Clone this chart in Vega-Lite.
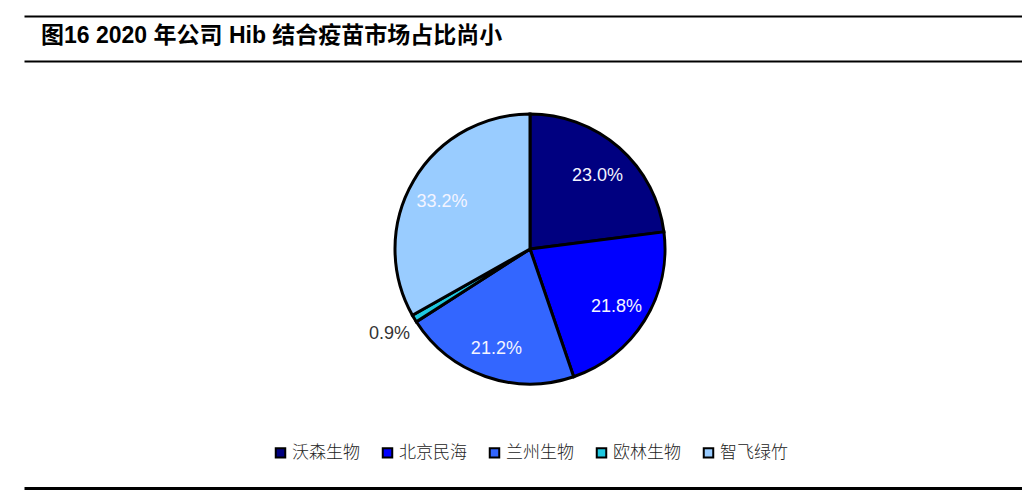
{
  "$schema": "https://vega.github.io/schema/vega-lite/v6.json",
  "width": 998,
  "height": 472,
  "autosize": {"type": "none"},
  "padding": {"left": 24, "top": 16, "right": 0, "bottom": 2},
  "background": "white",
  "config": {"view": {"stroke": null}},
  "title": {
    "text": "图16 2020 年公司 Hib 结合疫苗市场占比尚小",
    "anchor": "start",
    "frame": "group",
    "font": "Liberation Sans, Noto Sans CJK SC",
    "fontWeight": "bold",
    "fontSize": 23,
    "color": "black",
    "baseline": "alphabetic",
    "offset": -50,
    "dx": 17
  },
  "data": {
    "values": [
      {"company": "沃森生物", "share": 23.0, "label": "23.0%", "rank": 1},
      {"company": "北京民海", "share": 21.8, "label": "21.8%", "rank": 2},
      {"company": "兰州生物", "share": 21.2, "label": "21.2%", "rank": 3},
      {"company": "欧林生物", "share": 0.9, "label": "0.9%", "rank": 4},
      {"company": "智飞绿竹", "share": 33.2, "label": "33.2%", "rank": 5}
    ]
  },
  "resolve": {"axis": {"x": "independent", "y": "independent"}},
  "layer": [
    {
      "mark": {"type": "arc", "outerRadius": 135, "stroke": "black", "strokeWidth": 3},
      "encoding": {
        "theta": {"field": "share", "type": "quantitative", "stack": true},
        "order": {"field": "rank", "type": "quantitative"},
        "color": {
          "field": "company",
          "type": "nominal",
          "scale": {
            "domain": ["沃森生物", "北京民海", "兰州生物", "欧林生物", "智飞绿竹"],
            "range": ["#000080", "#0000FF", "#3366FF", "#1FC8E0", "#99CCFF"]
          },
          "legend": {
            "orient": "none",
            "legendX": 248,
            "legendY": 428,
            "direction": "horizontal",
            "title": null,
            "symbolType": "square",
            "symbolSize": 90,
            "symbolStrokeColor": "black",
            "symbolStrokeWidth": 2,
            "labelFont": "Noto Sans CJK SC",
            "labelFontSize": 17,
            "labelFontWeight": 300,
            "labelColor": "#222222",
            "labelOffset": 3,
            "columnPadding": 18
          }
        },
        "x": {
          "datum": 506,
          "type": "quantitative",
          "scale": {"domain": [0, 998], "nice": false, "zero": false},
          "axis": {"orient": "top", "domain": true, "domainColor": "black", "domainWidth": 2, "ticks": false, "labels": false, "grid": false, "title": null}
        },
        "y": {
          "datum": 233,
          "type": "quantitative",
          "scale": {"domain": [0, 472], "reverse": true, "nice": false, "zero": false},
          "axis": {"values": [45], "grid": true, "gridColor": "black", "gridWidth": 2, "domain": false, "ticks": false, "labels": false, "title": null}
        }
      }
    },
    {
      "mark": {"type": "text", "radius": 102, "dy": 4, "font": "Liberation Sans", "fontSize": 18, "fill": "#F4F4FF"},
      "encoding": {
        "theta": {"field": "share", "type": "quantitative", "stack": true},
        "order": {"field": "rank", "type": "quantitative"},
        "text": {"field": "label", "type": "nominal"},
        "opacity": {"condition": {"test": "datum.company === '欧林生物'", "value": 0}, "value": 1},
        "x": {
          "datum": 506,
          "type": "quantitative",
          "axis": {"orient": "bottom", "domain": true, "domainColor": "black", "domainWidth": 3, "ticks": false, "labels": false, "grid": false, "title": null}
        },
        "y": {"datum": 233, "type": "quantitative", "axis": null}
      }
    },
    {
      "mark": {"type": "text", "radius": 164, "font": "Liberation Sans", "fontSize": 18, "fill": "#333333"},
      "encoding": {
        "theta": {"field": "share", "type": "quantitative", "stack": true},
        "order": {"field": "rank", "type": "quantitative"},
        "text": {"field": "label", "type": "nominal"},
        "opacity": {"condition": {"test": "datum.company === '欧林生物'", "value": 1}, "value": 0},
        "x": {"datum": 506, "type": "quantitative", "axis": null},
        "y": {"datum": 233, "type": "quantitative", "axis": null}
      }
    }
  ]
}
